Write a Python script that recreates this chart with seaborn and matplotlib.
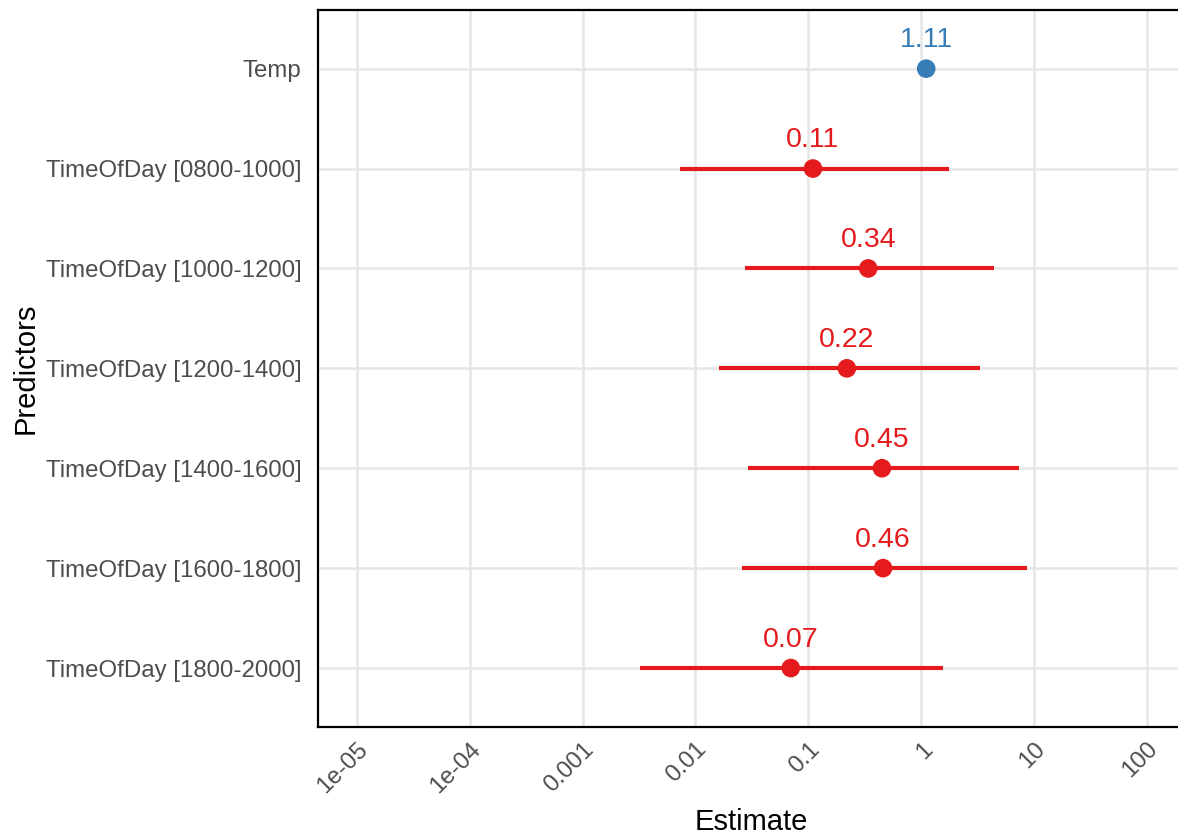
import numpy as np
import pandas as pd
import matplotlib
matplotlib.use("Agg")
import matplotlib.pyplot as plt
import seaborn as sns

predictors = ["Temp", "TimeOfDay [0800-1000]", "TimeOfDay [1000-1200]",
              "TimeOfDay [1200-1400]", "TimeOfDay [1400-1600]",
              "TimeOfDay [1600-1800]", "TimeOfDay [1800-2000]"]
estimates = [1.11, 0.11, 0.34, 0.22, 0.45, 0.46, 0.07]
ci_low = [1.08, 0.0073, 0.0277, 0.016, 0.0295, 0.026, 0.0032]
ci_high = [1.14, 1.77, 4.46, 3.35, 7.45, 8.77, 1.57]
labels = ["1.11", "0.11", "0.34", "0.22", "0.45", "0.46", "0.07"]
group = ["pos", "neg", "neg", "neg", "neg", "neg", "neg"]
tick_vals = [1e-5, 1e-4, 1e-3, 1e-2, 1e-1, 1, 10, 100]
tick_labels = ["1e-05", "1e-04", "0.001", "0.01", "0.1", "1", "10", "100"]

colors = {"pos": "#377EB8", "neg": "#E41A1C"}

df = pd.DataFrame({"pred": predictors, "est": estimates, "lo": ci_low,
                   "hi": ci_high, "lab": labels, "grp": group})
df["y"] = np.arange(len(df))

sns.set_theme(style="whitegrid")
plt.rcParams["font.family"] = ["Liberation Sans", "DejaVu Sans"]

fig = plt.figure(figsize=(11.78, 8.36), dpi=100)
ax = fig.add_axes([0.270, 0.1304, 0.735, 0.858])

for _, r in df.iterrows():
    ax.hlines(r["y"], r["lo"], r["hi"], color=colors[r["grp"]], lw=3.0, zorder=3)

sns.scatterplot(data=df, x="est", y="y", hue="grp", palette=colors, s=180,
                edgecolor="none", legend=False, ax=ax, zorder=4)

for _, r in df.iterrows():
    ax.annotate(r["lab"], (r["est"], r["y"]), xytext=(0, 11),
                textcoords="offset points", ha="center", va="bottom",
                color=colors[r["grp"]], fontsize=20.5)

ax.set_xscale("log")
ax.set_xlim(10 ** -5.346, 10 ** 2.33)
ax.set_ylim(6.59, -0.59)
ax.set_yticks(df["y"])
ax.set_yticklabels(predictors)
ax.set_xticks(tick_vals)
ax.set_xticklabels(tick_labels, rotation=45, ha="right", rotation_mode="anchor")
ax.minorticks_off()

ax.tick_params(axis="both", length=0, labelsize=17.3, labelcolor="#4d4d4d")
ax.tick_params(axis="y", pad=12)
ax.tick_params(axis="x", pad=8)
ax.grid(True, color="#e6e6e6", lw=1.8)
ax.set_axisbelow(True)

for s in ["left", "top", "bottom"]:
    ax.spines[s].set_visible(True)
    ax.spines[s].set_color("black")
    ax.spines[s].set_linewidth(1.6)
ax.spines["right"].set_visible(False)

ax.set_xlabel("Estimate", fontsize=21, color="black", labelpad=8)
ax.set_ylabel("Predictors", fontsize=21, color="black", labelpad=4)

fig.savefig("out.png", dpi=100)
